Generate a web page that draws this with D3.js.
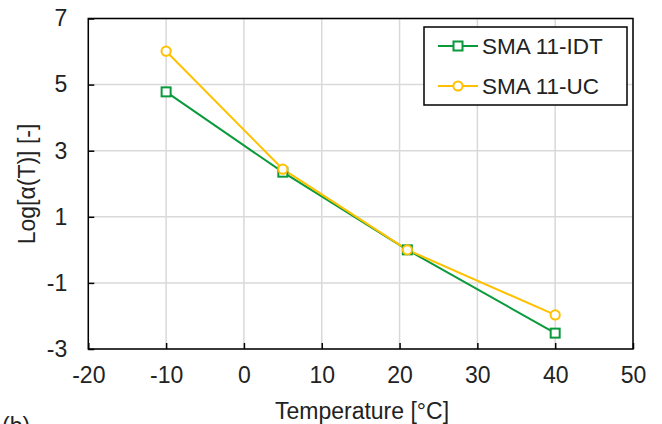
<!DOCTYPE html>
<html lang="en">
<head>
<meta charset="utf-8">
<script src="https://cdn.jsdelivr.net/npm/d3@7"></script>
<style>
  body { margin: 0; background: #fff; }
  text { font-family: "Liberation Sans", Arial, sans-serif; fill: #222; }
</style>
</head>
<body>
<script>
// data
var temps = [-10, 5, 21, 40];
var idt = [4.78, 2.35, 0, -2.52];
var uc = [6.01, 2.44, 0, -1.97];
var seriesNames = ["SMA 11-IDT", "SMA 11-UC"];
var xTicks = [-20, -10, 0, 10, 20, 30, 40, 50];
var yTicks = [-3, -1, 1, 3, 5, 7];

var w = 662, h = 424;
var margin = {top: 18.5, left: 88.3, right: 29, bottom: 75};
var iw = w - margin.left - margin.right;
var ih = h - margin.top - margin.bottom;
var fs = "23px";

var svg = d3.select("body").append("svg")
    .attr("width", w).attr("height", h);
var g = svg.append("g")
    .attr("transform", "translate(" + margin.left + "," + margin.top + ")");

var x = d3.scaleLinear().domain([-20, 50]).range([0, iw]);
var y = d3.scaleLinear().domain([-3, 7]).range([ih, 0]);

// grid
g.selectAll(".vg").data(xTicks).enter().append("line")
    .attr("x1", d => x(d)).attr("x2", d => x(d))
    .attr("y1", 0).attr("y2", ih)
    .attr("stroke", "#d9d9d9").attr("stroke-width", 1.5);
g.selectAll(".hg").data(yTicks).enter().append("line")
    .attr("x1", 0).attr("x2", iw)
    .attr("y1", d => y(d)).attr("y2", d => y(d))
    .attr("stroke", "#d9d9d9").attr("stroke-width", 1.5);

// axes, ticks inside, plain hyphen minus
var fmt = d => String(d);
var xAxis = d3.axisBottom(x).tickValues(xTicks).tickFormat(fmt)
    .tickSizeInner(-6).tickSizeOuter(0).tickPadding(18);
var yAxis = d3.axisLeft(y).tickValues(yTicks).tickFormat(fmt)
    .tickSizeInner(-6).tickSizeOuter(0).tickPadding(21);
var gx = g.append("g").attr("transform", "translate(0," + ih + ")").call(xAxis);
var gy = g.append("g").call(yAxis);
[gx, gy].forEach(function(a) {
  a.select(".domain").remove();
  a.selectAll("line").attr("stroke", "#000").attr("stroke-width", 1.5);
  a.selectAll("text").style("font-size", fs).attr("fill", "#222");
});

// frame
g.append("rect").attr("width", iw).attr("height", ih)
    .attr("fill", "none").attr("stroke", "#000").attr("stroke-width", 1.5);

var colors = ["#0a9a3c", "#ffc000"];
var line = d3.line().x((d, i) => x(temps[i])).y(d => y(d));

[idt, uc].forEach(function(vals, k) {
  g.append("path").datum(vals).attr("d", line)
      .attr("fill", "none").attr("stroke", colors[k]).attr("stroke-width", 2);
});

function marker(sel, k, cx, cy) {
  if (k === 0) {
    sel.append("rect").attr("x", cx - 4.5).attr("y", cy - 4.5)
        .attr("width", 9).attr("height", 9)
        .attr("fill", "#fff").attr("stroke", colors[0]).attr("stroke-width", 2);
  } else {
    sel.append("circle").attr("cx", cx).attr("cy", cy).attr("r", 4.6)
        .attr("fill", "#fff").attr("stroke", colors[1]).attr("stroke-width", 2);
  }
}
[idt, uc].forEach(function(vals, k) {
  vals.forEach(function(v, i) { marker(g, k, x(temps[i]), y(v)); });
});

// legend
var lg = svg.append("g").attr("transform", "translate(424,27)");
lg.append("rect").attr("width", 203).attr("height", 78)
    .attr("fill", "#fff").attr("stroke", "#000").attr("stroke-width", 1.5);
seriesNames.forEach(function(name, k) {
  var yy = 19 + k * 40;
  lg.append("line").attr("x1", 14).attr("x2", 54).attr("y1", yy).attr("y2", yy)
      .attr("stroke", colors[k]).attr("stroke-width", 2);
  marker(lg, k, 34, yy);
  lg.append("text").attr("x", 58).attr("y", yy).attr("dy", "0.35em")
      .style("font-size", "22.5px").text(name);
});

// axis titles
svg.append("text").attr("x", 362).attr("y", 419)
    .attr("text-anchor", "middle").style("font-size", fs).text("Temperature [°C]");
svg.append("text")
    .attr("transform", "translate(35,184) rotate(-90)")
    .attr("text-anchor", "middle").style("font-size", fs).text("Log[α(T)] [-]");

svg.append("text").attr("x", 2).attr("y", 434).style("font-size", fs).text("(b)");
</script>
</body>
</html>
